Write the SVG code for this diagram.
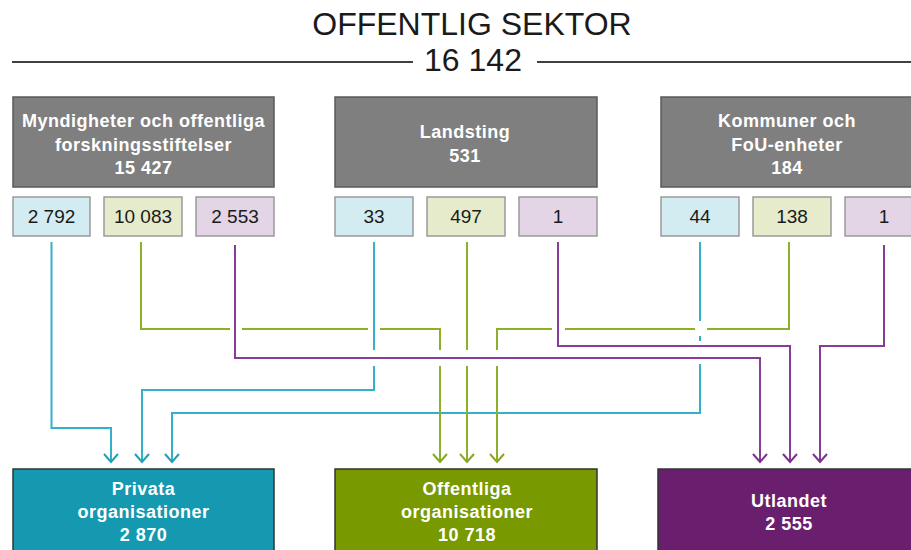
<svg xmlns="http://www.w3.org/2000/svg" width="911" height="550" viewBox="0 0 911 550">
<defs>
<style>
.title{font-family:"Liberation Sans",Arial,sans-serif;font-size:32px;fill:#1a1a1a;text-anchor:middle}
.gbox{fill:#7f7f7f;stroke:#5a5a5a;stroke-width:1.5}
.gtxt{font-family:"Liberation Sans",Arial,sans-serif;font-size:18px;font-weight:bold;fill:#ffffff;text-anchor:middle;letter-spacing:0.5px}
.num{font-family:"Liberation Sans",Arial,sans-serif;font-size:19px;fill:#1a1a1a;text-anchor:middle}
.sb{fill:#d3ecf1;stroke:#9a9a9a;stroke-width:1.5}
.sg{fill:#e5ebcb;stroke:#9a9a9a;stroke-width:1.5}
.sp{fill:#e3d4e6;stroke:#9a9a9a;stroke-width:1.5}
.ln{fill:none;stroke-width:2}
.lb{stroke:#33b1c9}
.lg{stroke:#8db02a}
.lp{stroke:#873c98}
.btxt{font-family:"Liberation Sans",Arial,sans-serif;font-size:18px;font-weight:bold;fill:#ffffff;text-anchor:middle;letter-spacing:0.5px}
</style>
<marker id="ab" markerUnits="userSpaceOnUse" viewBox="-10 -9 12 18" refX="0" refY="0" markerWidth="12" markerHeight="18" orient="auto"><path d="M-8,-7 L0,0 L-8,7" fill="none" stroke="#1f9fb8" stroke-width="2"/></marker>
<marker id="ag" markerUnits="userSpaceOnUse" viewBox="-10 -9 12 18" refX="0" refY="0" markerWidth="12" markerHeight="18" orient="auto"><path d="M-8,-7 L0,0 L-8,7" fill="none" stroke="#86a822" stroke-width="2"/></marker>
<marker id="ap" markerUnits="userSpaceOnUse" viewBox="-10 -9 12 18" refX="0" refY="0" markerWidth="12" markerHeight="18" orient="auto"><path d="M-8,-7 L0,0 L-8,7" fill="none" stroke="#7d3090" stroke-width="2"/></marker>
</defs>
<rect width="911" height="550" fill="#ffffff"/>
<g id="header">
<text class="title" x="472" y="35">OFFENTLIG SEKTOR</text>
<text class="title" x="473" y="71">16 142</text>
<line x1="12" y1="62" x2="413" y2="62" stroke="#404040" stroke-width="2"/>
<line x1="537" y1="62" x2="911" y2="62" stroke="#404040" stroke-width="2"/>
</g>
<g id="myndigheter">
<rect class="gbox" x="13" y="97" width="261" height="90"/>
<text class="gtxt" x="143.5" y="127">Myndigheter och offentliga</text>
<text class="gtxt" x="143.5" y="151">forskningsstiftelser</text>
<text class="gtxt" x="143.5" y="174">15 427</text>
</g>
<g id="landsting">
<rect class="gbox" x="335" y="97" width="262" height="90"/>
<text class="gtxt" x="465" y="138">Landsting</text>
<text class="gtxt" x="465" y="162">531</text>
</g>
<g id="kommuner">
<rect class="gbox" x="661" y="97" width="262" height="90"/>
<text class="gtxt" x="787" y="127">Kommuner och</text>
<text class="gtxt" x="787" y="151">FoU-enheter</text>
<text class="gtxt" x="787" y="174">184</text>
</g>
<g id="m-priv"><rect class="sb" x="13" y="197" width="77" height="39"/><text class="num" x="51.5" y="223">2 792</text></g>
<g id="m-off"><rect class="sg" x="104" y="197" width="78" height="39"/><text class="num" x="143" y="223">10 083</text></g>
<g id="m-utl"><rect class="sp" x="196" y="197" width="78" height="39"/><text class="num" x="235" y="223">2 553</text></g>
<g id="l-priv"><rect class="sb" x="335" y="197" width="78" height="39"/><text class="num" x="374" y="223">33</text></g>
<g id="l-off"><rect class="sg" x="427" y="197" width="78" height="39"/><text class="num" x="466" y="223">497</text></g>
<g id="l-utl"><rect class="sp" x="519" y="197" width="78" height="39"/><text class="num" x="558" y="223">1</text></g>
<g id="k-priv"><rect class="sb" x="661" y="197" width="78" height="39"/><text class="num" x="700" y="223">44</text></g>
<g id="k-off"><rect class="sg" x="753" y="197" width="78" height="39"/><text class="num" x="792" y="223">138</text></g>
<g id="k-utl"><rect class="sp" x="845" y="197" width="78" height="39"/><text class="num" x="884" y="223">1</text></g>
<g id="connectors">
<path class="ln lb" d="M51.5,242 V428 H111 V462" marker-end="url(#ab)"/>
<path class="ln lb" d="M374,242 V350"/>
<path class="ln lb" d="M374,366 V390 H142 V462" marker-end="url(#ab)"/>
<path class="ln lb" d="M700,242 V321 M700,336 V341"/>
<path class="ln lb" d="M700,364 V413 H172 V462" marker-end="url(#ab)"/>
<path class="ln lg" d="M141,242 V329 H230 M242,329 H368 M380,329 H440 V350"/>
<path class="ln lg" d="M440,366 V462" marker-end="url(#ag)"/>
<path class="ln lg" d="M467,242 V350"/>
<path class="ln lg" d="M467,366 V462" marker-end="url(#ag)"/>
<path class="ln lg" d="M789,242 V329 H707 M695,329 H565 M552,329 H497 V350"/>
<path class="ln lg" d="M497,366 V462" marker-end="url(#ag)"/>
<path class="ln lp" d="M235,245 V358 H760 V462" marker-end="url(#ap)"/>
<path class="ln lp" d="M558,242 V346 H790 V462" marker-end="url(#ap)"/>
<path class="ln lp" d="M884,245 V346 H820 V462" marker-end="url(#ap)"/>
</g>
<g id="privata">
<rect x="13" y="469" width="261" height="100" fill="#1499b1" stroke="#333333" stroke-width="1.5"/>
<text class="btxt" x="143.5" y="495">Privata</text>
<text class="btxt" x="143.5" y="518">organisationer</text>
<text class="btxt" x="143.5" y="541">2 870</text>
</g>
<g id="offentliga">
<rect x="335" y="469" width="262" height="100" fill="#789a00" stroke="#333333" stroke-width="1.5"/>
<text class="btxt" x="467" y="495">Offentliga</text>
<text class="btxt" x="467" y="518">organisationer</text>
<text class="btxt" x="467" y="541">10 718</text>
</g>
<g id="utlandet">
<rect x="658" y="469" width="262" height="100" fill="#6a1e6e" stroke="#333333" stroke-width="1.5"/>
<text class="btxt" x="789" y="507">Utlandet</text>
<text class="btxt" x="789" y="530">2 555</text>
</g>
</svg>
